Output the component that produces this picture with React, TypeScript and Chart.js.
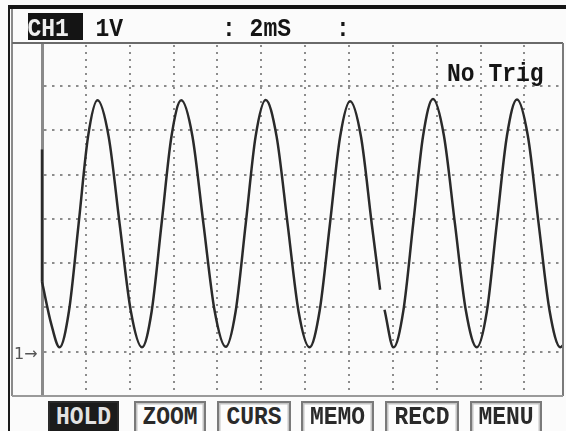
import React, { useEffect, useRef } from "react";
import { Chart, registerables } from "chart.js";

Chart.register(...registerables);

// ---- data (time in ms, amplitude in volts) ----
// initial vertical jump of the trace at the left edge
const startTimeMs = [0, 0];
const startVolts = [4.64, 1.65];

// main trace
const timeMs = [
  0.0, 0.42, 0.8,
  1.23, 1.67, 2.1, 2.53,
  3.04, 3.54, 4.05, 4.56,
  5.0, 5.45, 5.9, 6.35,
  6.86, 7.36, 7.87, 8.38,
  8.83, 9.29, 9.74, 10.2,
  10.7, 11.2, 11.7, 12.2,
  12.66, 13.13, 13.59, 14.05,
  14.55, 15.04, 15.42, 15.52, 15.62, 16.03,
  16.48, 16.93, 17.38, 17.83,
  18.33, 18.83, 19.33, 19.83,
  20.29, 20.74, 21.2, 21.66,
  22.16, 22.65, 23.15, 23.64,
  23.76,
];
const volts: (number | null)[] = [
  1.65, 0.7, 0.17,
  0.99, 2.96, 4.93, 5.75,
  4.93, 2.96, 0.99, 0.17,
  0.98, 2.95, 4.92, 5.75,
  4.94, 2.97, 1.0, 0.18,
  0.98, 2.96, 4.93, 5.76,
  4.93, 2.96, 0.98, 0.17,
  0.99, 2.95, 4.91, 5.73,
  4.92, 2.95, 1.47, null, 1.02, 0.17,
  1.0, 2.97, 4.95, 5.78,
  4.95, 2.97, 1.0, 0.17,
  0.99, 2.96, 4.94, 5.77,
  4.94, 2.96, 0.99, 0.17,
  0.22,
];
const timeRange = [0, 23.76];
const voltRange = [-0.93, 7];
const timePerDiv = 2;
const voltPerDiv = 1;

const channelLabel = "CH1";
const voltLabel = "1V";
const timeLabel = ": 2mS";
const extraLabel = ":";
const trigLabel = "No Trig";
const markerLabel = "1\u2192";
const buttonLabels = ["HOLD", "ZOOM", "CURS", "MEMO", "RECD", "MENU"];

// ---- layout ----
const W = 566;
const H = 431;
const buttonLefts = [48, 134, 217, 301, 385, 470];
const buttonWidths = [71, 72, 74, 73, 74, 72];
const MONO = '"Liberation Mono", "DejaVu Sans Mono", monospace';

type TxtProps = {
  text: string;
  left: number;
  baseline: number;
  size: number;
  color: string;
  family?: string;
  weight?: number;
  ascentRatio?: number;
  scaleY?: number;
};

function Txt({ text, left, baseline, size, color, family = MONO, weight = 700, ascentRatio = 0.767, scaleY = 1 }: TxtProps) {
  const off = ascentRatio * size;
  return (
    <div
      style={{
        position: "absolute",
        left,
        top: baseline - off,
        fontFamily: family,
        fontWeight: weight,
        fontSize: size,
        lineHeight: `${size}px`,
        color,
        whiteSpace: "pre",
        transform: `scaleY(${scaleY})`,
        transformOrigin: `0 ${off}px`,
        zIndex: 3,
      }}
    >
      {text}
    </div>
  );
}

function Box(props: { left: number; top: number; width: number; height: number; bg: string; z?: number }) {
  return (
    <div
      style={{
        position: "absolute",
        left: props.left,
        top: props.top,
        width: props.width,
        height: props.height,
        background: props.bg,
        zIndex: props.z ?? 2,
      }}
    />
  );
}

export default function App() {
  const canvasRef = useRef<HTMLCanvasElement | null>(null);

  useEffect(() => {
    if (!canvasRef.current) return;
    const startPoints = startTimeMs.map((t, i) => ({ x: t, y: startVolts[i] }));
    const points = timeMs.map((t, i) => ({ x: t, y: volts[i] }));
    const traceStyle = {
      borderColor: "#2a2a2a",
      borderWidth: 2.5,
      pointRadius: 0,
      cubicInterpolationMode: "monotone" as const,
      spanGaps: false,
      clip: 4,
    };
    const chart = new Chart(canvasRef.current, {
      type: "line",
      data: {
        datasets: [
          { data: startPoints as any, ...traceStyle },
          { data: points as any, ...traceStyle },
        ],
      },
      options: {
        animation: false,
        responsive: false,
        devicePixelRatio: 1,
        layout: { padding: { left: 42, top: 45, right: 3, bottom: 35 } },
        plugins: { legend: { display: false }, tooltip: { enabled: false } },
        scales: {
          x: {
            type: "linear",
            min: timeRange[0],
            max: timeRange[1],
            bounds: "data",
            ticks: { display: false, stepSize: timePerDiv, includeBounds: false },
            grid: {
              drawTicks: false,
              lineWidth: 2,
              color: (c: any) => (c.tick && c.tick.value === timeRange[0] ? "rgba(0,0,0,0)" : "#8c8c8c"),
            },
            border: { display: false, dash: [2, 5] },
          },
          y: {
            type: "linear",
            min: voltRange[0],
            max: voltRange[1],
            bounds: "data",
            ticks: { display: false, stepSize: voltPerDiv, includeBounds: false },
            grid: {
              drawTicks: false,
              lineWidth: 2,
              color: (c: any) => (c.tick && c.tick.value === voltRange[1] ? "rgba(0,0,0,0)" : "#8c8c8c"),
            },
            border: { display: true, color: "#8a8a8a", width: 3, dash: [2.5, 5.5] },
          },
        },
      },
    });
    return () => chart.destroy();
  }, []);

  return (
    <div style={{ position: "absolute", left: 0, top: 0, width: W, height: H, background: "#fbfbfb", overflow: "hidden" }}>
      <canvas ref={canvasRef} width={W} height={H} style={{ position: "absolute", left: 0, top: 0, width: W, height: H, zIndex: 1 }} />
      {/* device frame */}
      <Box left={8} top={5} width={558} height={4} bg="#161616" />
      <Box left={8} top={5} width={2} height={426} bg="#1a1a1a" />
      <Box left={11} top={9} width={1.5} height={387} bg="#8a8a8a" />
      <Box left={12} top={42} width={551} height={2} bg="#6a6a6a" />
      <Box left={562} top={43} width={1.5} height={353} bg="#7a7a7a" />
      <Box left={12} top={395} width={551} height={2} bg="#9a9a9a" />
      {/* header */}
      <Box left={28} top={13} width={55} height={27} bg="#141414" />
      <Txt text={channelLabel} left={27.5} baseline={37} size={23} color="#eeeeee" scaleY={1.12} />
      <Txt text={voltLabel} left={95.5} baseline={37} size={23} color="#151515" scaleY={1.12} />
      <Txt text={timeLabel} left={222} baseline={37} size={23} color="#151515" scaleY={1.12} />
      <Txt text={extraLabel} left={336} baseline={37} size={23} color="#151515" scaleY={1.12} />
      <Txt text={trigLabel} left={447} baseline={82} size={23} color="#151515" scaleY={1.12} />
      <Txt
        text={markerLabel}
        left={14}
        baseline={360}
        size={16}
        color="#555555"
        weight={400}
        family='"DejaVu Sans", sans-serif'
        ascentRatio={0.846}
      />
      {/* soft keys */}
      {buttonLabels.map((b, i) => {
        const active = i === 0;
        return (
          <div
            key={b}
            style={{
              position: "absolute",
              left: buttonLefts[i],
              top: 401,
              width: buttonWidths[i],
              height: 34,
              boxSizing: "border-box",
              border: active ? "2px solid #2a2a2a" : "2px solid #7a7a7a",
              boxShadow: active ? "none" : "inset 0 0 0 1.5px #c4c4c4",
              background: active ? "#1b1b1b" : "#fdfdfd",
              zIndex: 2,
            }}
          >
            <div
              style={{
                position: "absolute",
                left: 0,
                right: 0,
                top: 4,
                textAlign: "center",
                fontFamily: MONO,
                fontWeight: 700,
                fontSize: 23,
                lineHeight: "23px",
                color: active ? "#e2e2e2" : "#2a2a2a",
                transform: "scaleY(1.1)",
                transformOrigin: "0 17.6px",
              }}
            >
              {b}
            </div>
          </div>
        );
      })}
    </div>
  );
}
